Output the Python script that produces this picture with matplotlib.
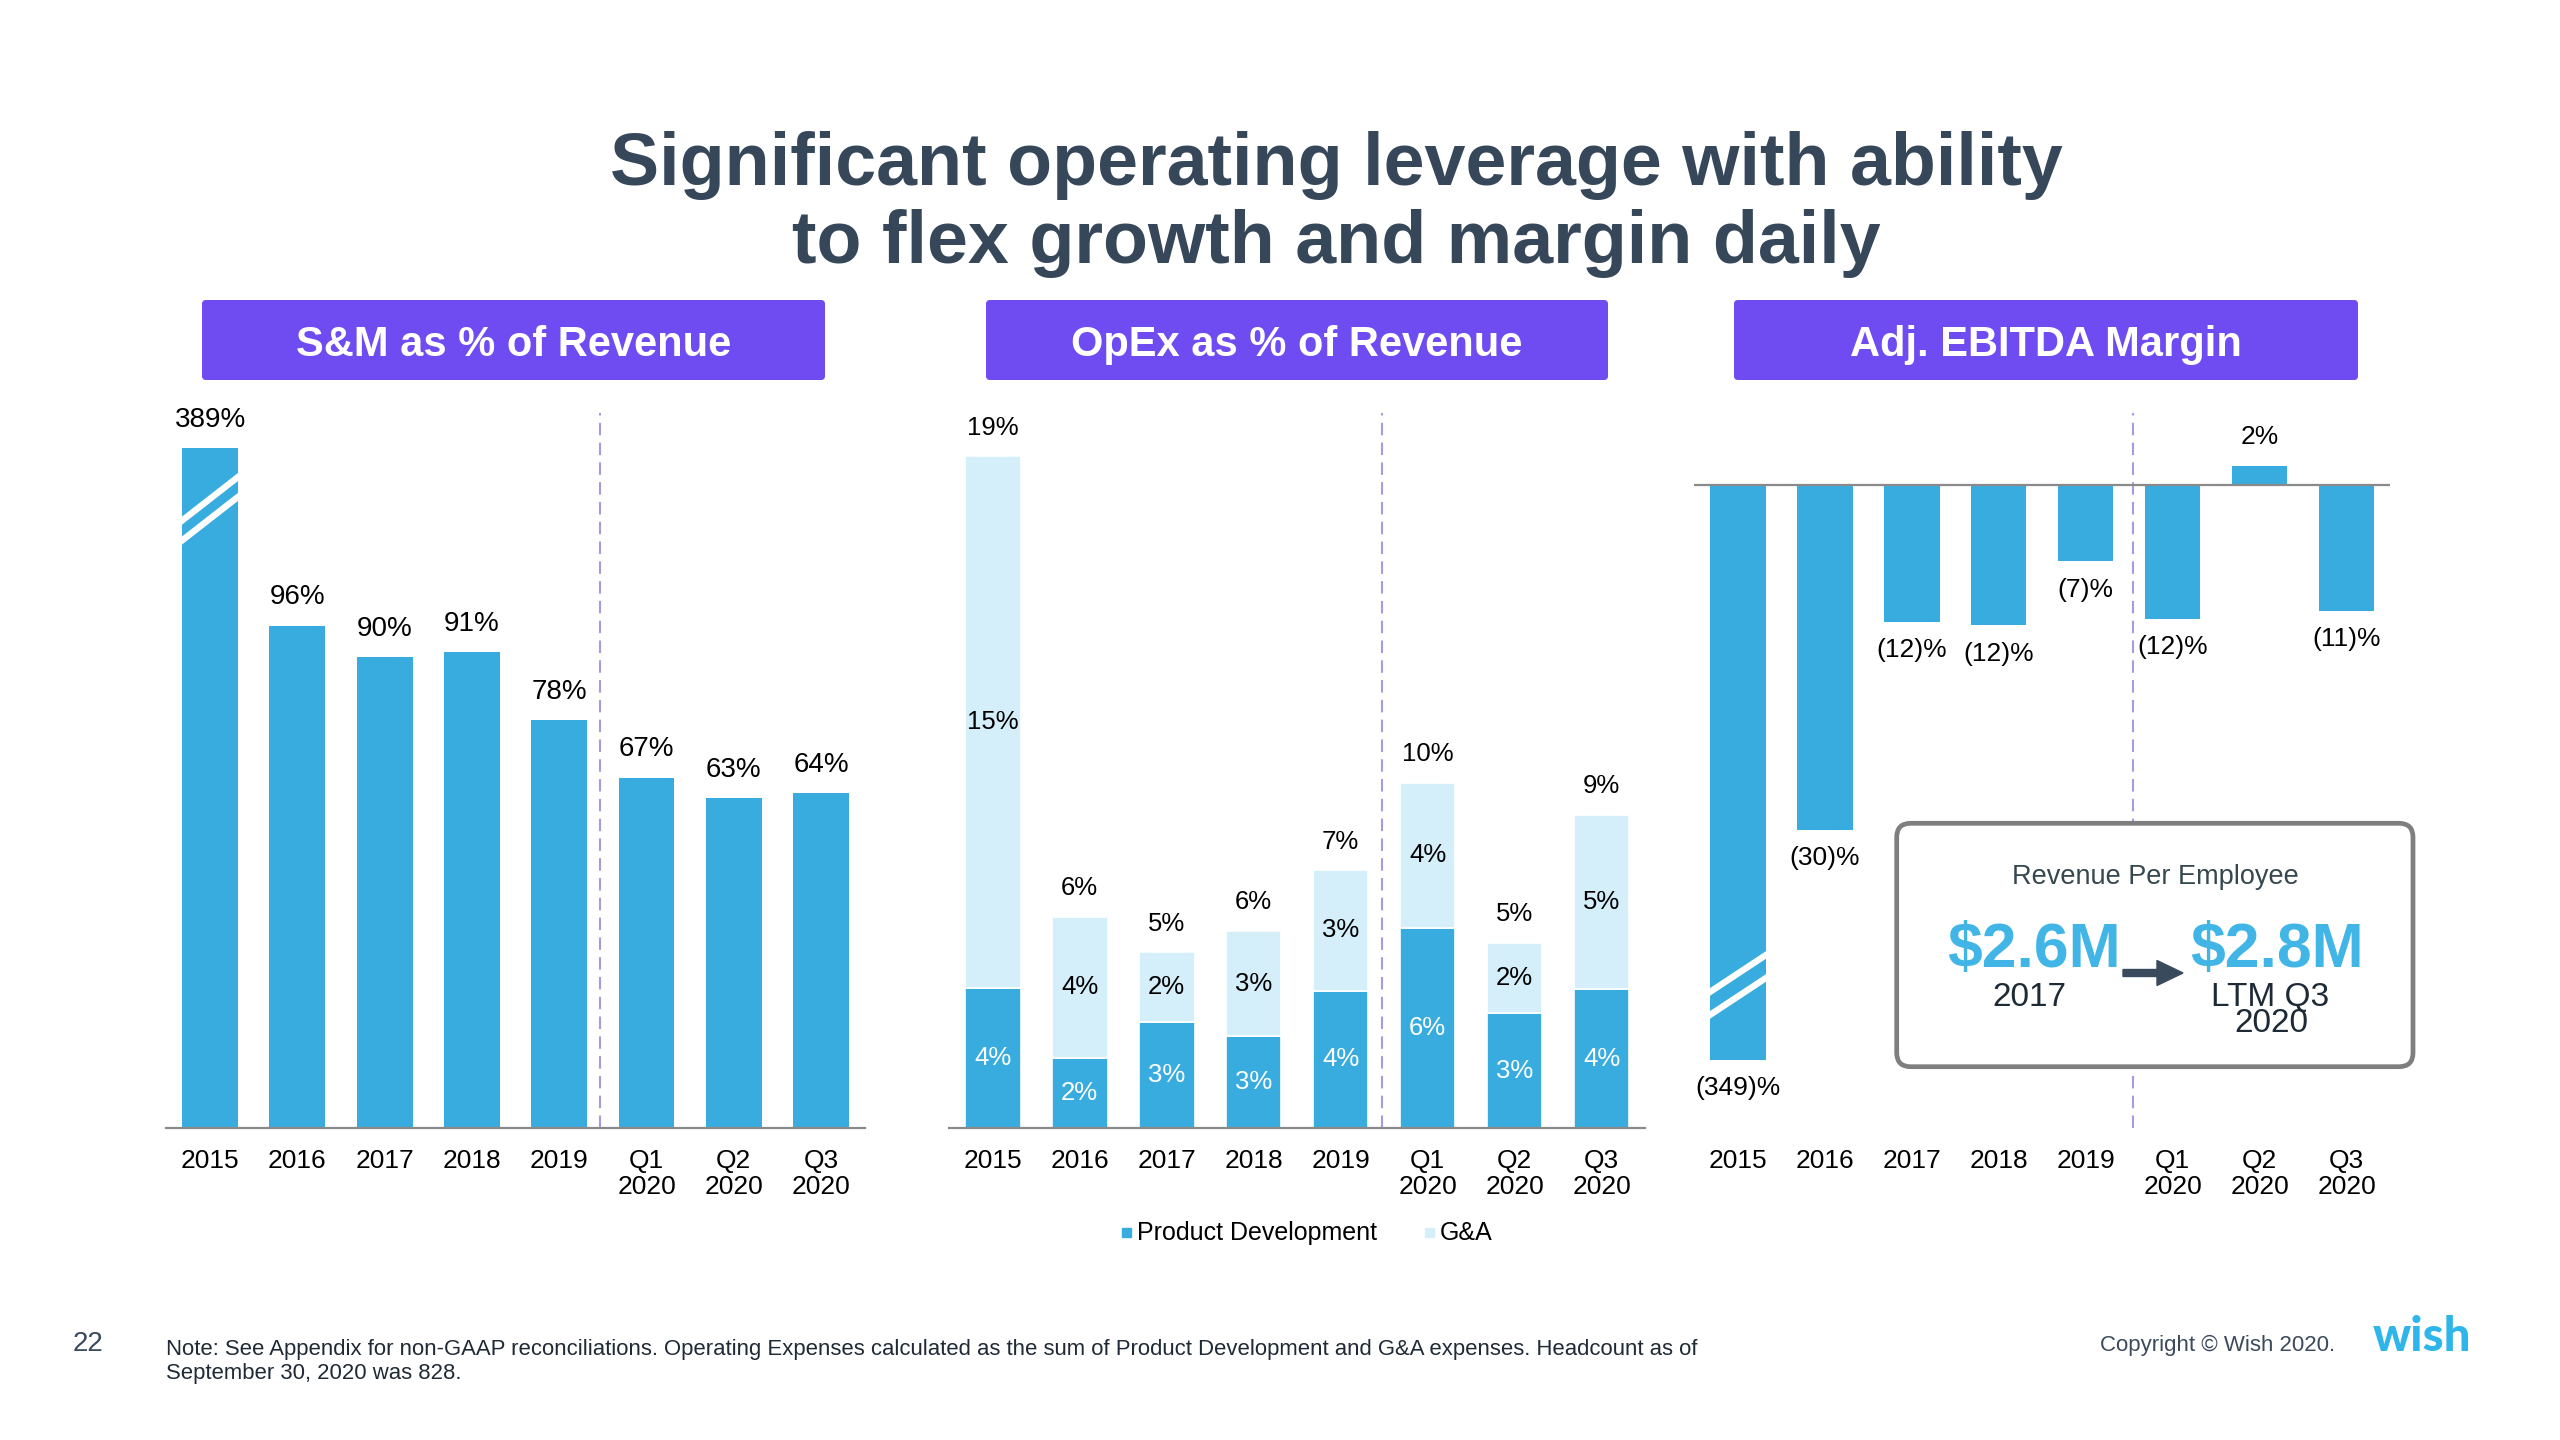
#!/usr/bin/env python3
import matplotlib
matplotlib.use("Agg")
import matplotlib.pyplot as plt
from matplotlib.patches import FancyBboxPatch, FancyArrow, Rectangle

W, H = 2560, 1440

# --- data ---
periods = ["2015", "2016", "2017", "2018", "2019", "Q1\n2020", "Q2\n2020", "Q3\n2020"]

sm_pct = [389, 96, 90, 91, 78, 67, 63, 64]
sm_labels = ["389%", "96%", "90%", "91%", "78%", "67%", "63%", "64%"]

pd_pct = [3.97, 1.98, 2.99, 2.59, 3.89, 5.67, 3.25, 3.92]
ga_pct = [15.03, 4.00, 1.98, 2.99, 3.41, 4.10, 1.99, 4.94]
pd_labels = ["4%", "2%", "3%", "3%", "4%", "6%", "3%", "4%"]
ga_labels = ["15%", "4%", "2%", "3%", "3%", "4%", "2%", "5%"]
opex_labels = ["19%", "6%", "5%", "6%", "7%", "10%", "5%", "9%"]

ebitda_pct = [-349, -30, -11.9, -12.2, -6.6, -11.6, 1.7, -10.9]
ebitda_labels = ["(349)%", "(30)%", "(12)%", "(12)%", "(7)%", "(12)%", "2%", "(11)%"]

# outliers are drawn cut off, with break marks
SM_CAP = 130
EBITDA_CAP = -50

# --- style ---
BLUE = "#38ACDE"
LIGHT = "#D4EEFA"
PURPLE = "#6F4BF2"
DASH = "#A69AE6"
AXIS_GRAY = "#8A8A8A"
SLATE = "#37475A"
BIG_BLUE = "#41B6E6"
BAR_W = 0.64
LBL_OFF = 20.5

plt.rcParams["font.family"] = ["Liberation Sans", "DejaVu Sans"]


def px_axes(fig, x0, y0, x1, y1):
    # axes placed with pixel coords measured from the top-left corner
    return fig.add_axes([x0 / W, 1 - y1 / H, (x1 - x0) / W, (y1 - y0) / H])


def style_axes(ax, baseline=True):
    for s in ["top", "right", "left", "bottom"]:
        ax.spines[s].set_visible(False)
    if baseline:
        ax.spines["bottom"].set_visible(True)
        ax.spines["bottom"].set_color(AXIS_GRAY)
        ax.spines["bottom"].set_linewidth(1.6)
    ax.set_yticks([])
    ax.set_xticks(range(len(periods)))
    ax.set_xticklabels(periods, fontsize=19, linespacing=1.12)
    ax.tick_params(axis="x", length=0, pad=15, colors="black")
    ax.set_xlim(-0.5, 7.5)
    ax.patch.set_alpha(0)


def break_marks(ax, bar, centers, slope):
    xc = bar.get_x() + bar.get_width() / 2
    for yc in centers:
        ln, = ax.plot([xc - 0.5, xc + 0.5], [yc - slope * 0.5, yc + slope * 0.5],
                      color="white", lw=4.6, solid_capstyle="butt", zorder=3)
        ln.set_clip_path(bar)


def draw_sm(fig):
    ax = px_axes(fig, 166.4, 413, 864.8, 1128)
    x = range(len(sm_pct))
    shown = [min(v, SM_CAP) for v in sm_pct]
    bars = ax.bar(x, shown, width=BAR_W, color=BLUE, zorder=2)
    for b, lab in zip(bars, sm_labels):
        ax.annotate(lab, (b.get_x() + b.get_width() / 2, b.get_height()),
                    xytext=(0, LBL_OFF), textcoords="offset points",
                    ha="center", va="center", fontsize=20)
    break_marks(ax, bars[0], [120.3, 116.5], 13.0)
    ax.axvline(4.47, color=DASH, lw=1.5, ls=(0, (6, 3.5)), zorder=1)
    ax.set_ylim(0, 136.7)
    style_axes(ax)


def draw_opex(fig):
    ax = px_axes(fig, 949.3, 413, 1645, 1128)
    x = list(range(len(pd_pct)))
    ax.bar(x, pd_pct, width=BAR_W, color=BLUE, edgecolor="white", lw=1.2, zorder=2)
    ax.bar(x, ga_pct, bottom=pd_pct, width=BAR_W, color=LIGHT,
           edgecolor="white", lw=1.2, zorder=2)
    for i in x:
        ax.text(i, pd_pct[i] / 2, pd_labels[i], ha="center", va="center",
                fontsize=18.5, color="white", zorder=4)
        ax.text(i, pd_pct[i] + ga_pct[i] / 2, ga_labels[i], ha="center", va="center",
                fontsize=18.5, color="black", zorder=4)
        ax.annotate(opex_labels[i], (i, pd_pct[i] + ga_pct[i]),
                    xytext=(0, LBL_OFF), textcoords="offset points",
                    ha="center", va="center", fontsize=18.5)
    ax.axvline(4.47, color=DASH, lw=1.5, ls=(0, (6, 3.5)), zorder=1)
    ax.set_ylim(0, 20.23)
    style_axes(ax)


def draw_ebitda(fig):
    ax = px_axes(fig, 1694.3, 413, 2390, 1128)
    x = range(len(ebitda_pct))
    shown = [max(v, EBITDA_CAP) for v in ebitda_pct]
    bars = ax.bar(x, shown, width=BAR_W, color=BLUE, zorder=2)
    for b, v, lab in zip(bars, ebitda_pct, ebitda_labels):
        xc = b.get_x() + b.get_width() / 2
        y0, y1 = sorted([b.get_y(), b.get_y() + b.get_height()])
        if v > 0:
            anchor, off = y1, LBL_OFF
        else:
            anchor, off = y0, -LBL_OFF
        ax.annotate(lab, (xc, anchor), xytext=(0, off), textcoords="offset points",
                    ha="center", va="center", fontsize=19)
    break_marks(ax, bars[0], [-42.5, -44.5], 5.0)
    ax.axhline(0, color=AXIS_GRAY, lw=1.6, zorder=2.5)
    ax.axvline(4.55, color=DASH, lw=1.5, ls=(0, (6, 3.5)), zorder=1)
    ax.set_ylim(-55.94, 6.29)
    style_axes(ax, baseline=False)


def draw_overlay(fig):
    ov = fig.add_axes([0, 0, 1, 1], zorder=5)
    ov.set_xlim(0, W)
    ov.set_ylim(H, 0)
    ov.axis("off")

    ov.text(1336, 165, "Significant operating leverage with ability", ha="center",
            va="center", fontsize=53, fontweight="bold", color=SLATE)
    ov.text(1336, 244, "to flex growth and margin daily", ha="center",
            va="center", fontsize=53, fontweight="bold", color=SLATE)

    headers = [(202, 825, "S&M as % of Revenue"),
               (986, 1608, "OpEx as % of Revenue"),
               (1734, 2358, "Adj. EBITDA Margin")]
    for x0, x1, txt in headers:
        ov.add_patch(FancyBboxPatch((x0, 300), x1 - x0, 80,
                                    boxstyle="round,pad=0,rounding_size=4",
                                    fc=PURPLE, ec="none"))
        ov.text((x0 + x1) / 2, 345, txt, ha="center", va="center",
                fontsize=30, fontweight="bold", color="white")

    # legend for the OpEx chart
    ov.add_patch(Rectangle((1121.7, 1228), 9.3, 9.3, color=BLUE))
    ov.text(1137.3, 1233, "Product Development", ha="left", va="center", fontsize=18)
    ov.add_patch(Rectangle((1425, 1228), 9.3, 9.3, color=LIGHT))
    ov.text(1440, 1233, "G&A", ha="left", va="center", fontsize=18)

    # revenue per employee callout
    ov.add_patch(FancyBboxPatch((1896.7, 823.3), 516.3, 243.4,
                                boxstyle="round,pad=0,rounding_size=14",
                                fc="white", ec="#7F7F7F", lw=3.4))
    ov.text(2155, 877, "Revenue Per Employee", ha="center", va="center",
            fontsize=19.5, color="#37474F")
    ov.text(2034, 950, "$2.6M", ha="center", va="center", fontsize=45,
            fontweight="bold", color=BIG_BLUE)
    ov.text(2277, 950, "$2.8M", ha="center", va="center", fontsize=45,
            fontweight="bold", color=BIG_BLUE)
    ov.add_patch(FancyArrow(2123, 973, 60, 0, width=7, head_width=25, head_length=26,
                            length_includes_head=True, color="#394A5C"))
    ov.text(2029, 997, "2017", ha="center", va="center", fontsize=24, color="#1E2A35")
    ov.text(2270, 997, "LTM Q3", ha="center", va="center", fontsize=24, color="#1E2A35")
    ov.text(2271, 1024, "2020", ha="center", va="center", fontsize=24, color="#1E2A35")

    # footer
    ov.text(88, 1344, "22", ha="center", va="center", fontsize=20, color="#3B4B5E")
    ov.text(166.5, 1349, "Note: See Appendix for non-GAAP reconciliations. Operating Expenses "
            "calculated as the sum of Product Development and G&A expenses. Headcount as of",
            ha="left", va="center", fontsize=15.9, color="#1F2A36")
    ov.text(166.5, 1374, "September 30, 2020 was 828.", ha="left", va="center",
            fontsize=15.9, color="#1F2A36")
    ov.text(2218, 1345, "Copyright \u00a9 Wish 2020.", ha="center", va="center",
            fontsize=16, color="#3C4A5C")
    ov.text(2422, 1337, "wish", ha="center", va="center", fontsize=34,
            fontweight="black", color="#2FB5EA", family=["Lato", "DejaVu Sans"])


def main():
    fig = plt.figure(figsize=(W / 100, H / 100), dpi=100)
    fig.patch.set_facecolor("white")
    draw_sm(fig)
    draw_opex(fig)
    draw_ebitda(fig)
    draw_overlay(fig)
    fig.savefig("out.png", dpi=100)


if __name__ == "__main__":
    main()
